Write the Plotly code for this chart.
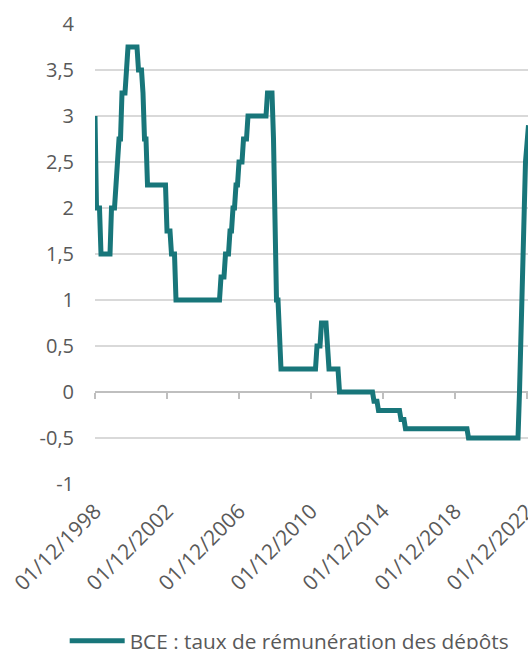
import plotly.graph_objects as go

# Monthly ECB deposit facility rate (%), Dec 1998 -> Jan 2023
v1998 = [3.0]
v1999 = [2.0, 2.0, 2.0, 1.5, 1.5, 1.5, 1.5, 1.5, 1.5, 1.5, 2.0, 2.0]
v2000 = [2.0, 2.25, 2.5, 2.75, 2.75, 3.25, 3.25, 3.25, 3.5, 3.75, 3.75, 3.75]
v2001 = [3.75, 3.75, 3.75, 3.75, 3.5, 3.5, 3.5, 3.25, 2.75, 2.75, 2.25, 2.25]
v2002 = [2.25, 2.25, 2.25, 2.25, 2.25, 2.25, 2.25, 2.25, 2.25, 2.25, 2.25, 1.75]
v2003 = [1.75, 1.75, 1.5, 1.5, 1.5, 1.0, 1.0, 1.0, 1.0, 1.0, 1.0, 1.0]
v2004 = [1.0, 1.0, 1.0, 1.0, 1.0, 1.0, 1.0, 1.0, 1.0, 1.0, 1.0, 1.0]
v2005 = [1.0, 1.0, 1.0, 1.0, 1.0, 1.0, 1.0, 1.0, 1.0, 1.0, 1.0, 1.25]
v2006 = [1.25, 1.25, 1.5, 1.5, 1.5, 1.75, 1.75, 2.0, 2.0, 2.25, 2.25, 2.5]
v2007 = [2.5, 2.5, 2.75, 2.75, 2.75, 3.0, 3.0, 3.0, 3.0, 3.0, 3.0, 3.0]
v2008 = [3.0, 3.0, 3.0, 3.0, 3.0, 3.0, 3.25, 3.25, 3.25, 3.25, 2.75, 2.0]
v2009 = [1.0, 1.0, 0.5, 0.25, 0.25, 0.25, 0.25, 0.25, 0.25, 0.25, 0.25, 0.25]
v2010 = [0.25, 0.25, 0.25, 0.25, 0.25, 0.25, 0.25, 0.25, 0.25, 0.25, 0.25, 0.25]
v2011 = [0.25, 0.25, 0.25, 0.5, 0.5, 0.5, 0.75, 0.75, 0.75, 0.75, 0.5, 0.25]
v2012 = [0.25, 0.25, 0.25, 0.25, 0.25, 0.25, 0.0, 0.0, 0.0, 0.0, 0.0, 0.0]
v2013 = [0.0, 0.0, 0.0, 0.0, 0.0, 0.0, 0.0, 0.0, 0.0, 0.0, 0.0, 0.0]
v2014 = [0.0, 0.0, 0.0, 0.0, 0.0, -0.1, -0.1, -0.1, -0.2, -0.2, -0.2, -0.2]
v2015 = [-0.2, -0.2, -0.2, -0.2, -0.2, -0.2, -0.2, -0.2, -0.2, -0.2, -0.2, -0.3]
v2016 = [-0.3, -0.3, -0.4, -0.4, -0.4, -0.4, -0.4, -0.4, -0.4, -0.4, -0.4, -0.4]
v2017 = [-0.4, -0.4, -0.4, -0.4, -0.4, -0.4, -0.4, -0.4, -0.4, -0.4, -0.4, -0.4]
v2018 = [-0.4, -0.4, -0.4, -0.4, -0.4, -0.4, -0.4, -0.4, -0.4, -0.4, -0.4, -0.4]
v2019 = [-0.4, -0.4, -0.4, -0.4, -0.4, -0.4, -0.4, -0.4, -0.5, -0.5, -0.5, -0.5]
v2020 = [-0.5, -0.5, -0.5, -0.5, -0.5, -0.5, -0.5, -0.5, -0.5, -0.5, -0.5, -0.5]
v2021 = [-0.5, -0.5, -0.5, -0.5, -0.5, -0.5, -0.5, -0.5, -0.5, -0.5, -0.5, -0.5]
v2022 = [-0.5, -0.5, -0.5, -0.5, -0.5, -0.5, 0.0, 0.75, 1.5, 2.0, 2.5, 2.7]
v2023 = [2.9]

values = (v1998 + v1999 + v2000 + v2001 + v2002 + v2003 + v2004 + v2005 + v2006
          + v2007 + v2008 + v2009 + v2010 + v2011 + v2012 + v2013 + v2014 + v2015
          + v2016 + v2017 + v2018 + v2019 + v2020 + v2021 + v2022 + v2023)
months = list(range(len(values)))  # month index since 01/12/1998

x_tick_pos = [0, 48, 96, 144, 192, 240, 288]
x_tick_labels = ["01/12/1998", "01/12/2002", "01/12/2006", "01/12/2010",
                 "01/12/2014", "01/12/2018", "01/12/2022"]
y_tick_vals = [-1, -0.5, 0, 0.5, 1, 1.5, 2, 2.5, 3, 3.5, 4]
y_tick_text = ["-1", "-0,5", "0", "0,5", "1", "1,5", "2", "2,5", "3", "3,5", "4"]

series_name = "BCE : taux de rémunération des dépôts"

LINE = "#18767a"
TXT = "#595959"
FONT = "Open Sans"

fig = go.Figure()
fig.add_trace(go.Scatter(x=months, y=values, mode="lines", name=series_name,
                         line=dict(color=LINE, width=5)))

fig.update_layout(
    width=528, height=649,
    margin=dict(l=95, r=0, t=24, b=165, autoexpand=False),
    paper_bgcolor="white", plot_bgcolor="white",
    font=dict(family=FONT, size=20, color=TXT),
    showlegend=True,
    legend=dict(orientation="h", x=-0.07, xanchor="left", y=-0.297, yanchor="top",
                font=dict(family=FONT, size=20.8, color=TXT), itemwidth=55,
                bgcolor="rgba(0,0,0,0)"),
    xaxis=dict(range=[0, 288.67], tickmode="array", tickvals=x_tick_pos,
               ticktext=x_tick_labels, tickangle=-45, showgrid=False, zeroline=False,
               anchor="free", position=0.2, showline=True, linecolor="#bfbfbf",
               linewidth=1.5, ticks="outside", ticklen=6, tickwidth=1.5,
               tickcolor="#bfbfbf", ticklabelstandoff=92, layer="below traces",
               ticklabeloverflow="allow",
               tickfont=dict(family=FONT, size=21, color=TXT)),
    yaxis=dict(range=[-1, 4], tickmode="array", tickvals=y_tick_vals,
               ticktext=y_tick_text, showgrid=True, gridcolor="#d9d9d9",
               gridwidth=1.5, zeroline=False, showline=False, ticks="",
               ticklabelstandoff=20, layer="below traces",
               tickfont=dict(family=FONT, size=20, color=TXT)),
)

fig.write_html("out.html", config={"displayModeBar": False},
               post_script="document.body.style.margin='0';document.body.style.overflow='hidden';")
